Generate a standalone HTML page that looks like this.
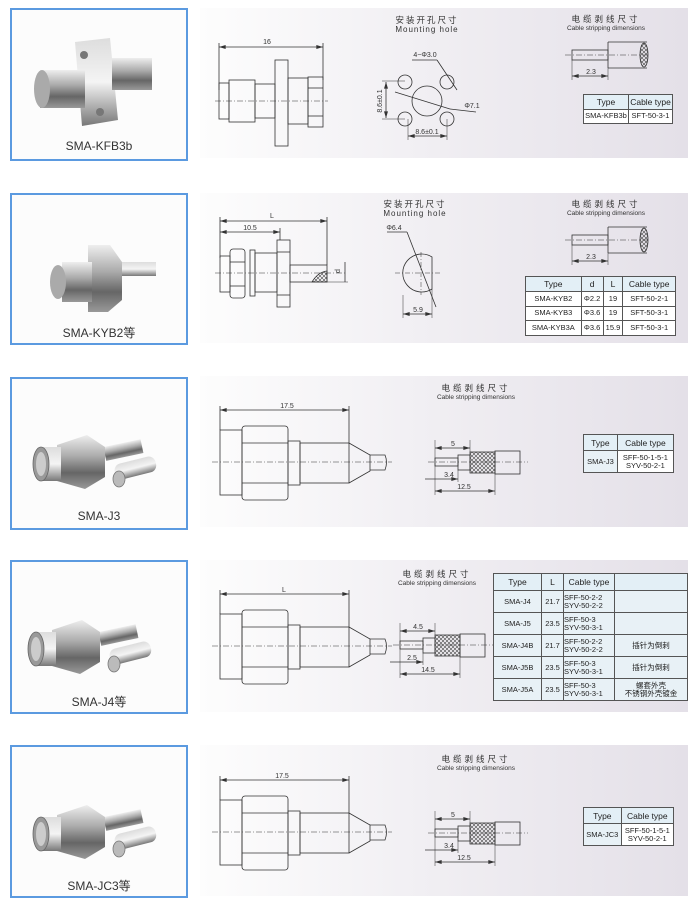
<!DOCTYPE html>
<html><head><meta charset="utf-8"><style>
body{margin:0;width:696px;height:906px;background:#fff;position:relative;overflow:hidden;font-family:"Liberation Sans","Noto Sans CJK SC",sans-serif;}
.box{position:absolute;left:10px;width:174px;border:2px solid #5b9ae0;background:#fcfcfc;}
.lbl{position:absolute;left:0;right:0;text-align:center;font-size:12px;color:#333;}
.panel{position:absolute;left:200px;width:488px;background:linear-gradient(90deg,#fdfdfd 0%,#f1eff3 45%,#e4e0e8 100%);}
table{position:absolute;border-collapse:collapse;font-size:7.5px;color:#222;background:#fff;border:1.5px solid #333;}
td{border:1px solid #555;text-align:center;padding:0;line-height:8px;}
tr.h td{background:#e3eff6;font-size:8.5px;}
td.b{background:#e8f1f6;}
.d{marker-start:url(#ar);marker-end:url(#ar);}
</style></head><body>
<div class="panel" style="top:8px;height:150px"></div>
<div class="panel" style="top:193px;height:150px"></div>
<div class="panel" style="top:376px;height:151px"></div>
<div class="panel" style="top:560px;height:152px"></div>
<div class="panel" style="top:745px;height:151px"></div>

<div class="box" style="top:8px;height:149px"><div class="lbl" style="top:129px">SMA-KFB3b</div></div>
<div class="box" style="top:193px;height:148px"><div class="lbl" style="top:129px">SMA-KYB2等</div></div>
<div class="box" style="top:377px;height:149px"><div class="lbl" style="top:130px">SMA-J3</div></div>
<div class="box" style="top:560px;height:150px"><div class="lbl" style="top:131px">SMA-J4等</div></div>
<div class="box" style="top:745px;height:149px"><div class="lbl" style="top:130px">SMA-JC3等</div></div>

<svg width="696" height="906" style="position:absolute;left:0;top:0" xmlns="http://www.w3.org/2000/svg" font-family="Liberation Sans, Noto Sans CJK SC, sans-serif">
<defs>
<marker id="ar" viewBox="0 0 10 6" refX="10" refY="3" markerWidth="7" markerHeight="4" orient="auto-start-reverse" markerUnits="userSpaceOnUse"><path d="M0 0L10 3L0 6Z" fill="#333"/></marker>
<linearGradient id="m" x1="0" y1="0" x2="0" y2="1"><stop offset="0" stop-color="#eee"/><stop offset=".4" stop-color="#aaa"/><stop offset=".7" stop-color="#666"/><stop offset="1" stop-color="#999"/></linearGradient>
<linearGradient id="m2" x1="0" y1="0" x2="0" y2="1"><stop offset="0" stop-color="#ddd"/><stop offset=".5" stop-color="#f4f4f4"/><stop offset="1" stop-color="#777"/></linearGradient>
<pattern id="hx" width="4" height="4" patternUnits="userSpaceOnUse"><path d="M0 0L4 4M4 0L0 4" stroke="#444" stroke-width=".6"/></pattern>
<g id="jplug">
<rect x="70" y="-8" width="38" height="14" fill="url(#m)" transform="rotate(-12 70 0)"/>
<rect x="80" y="10" width="42" height="16" rx="7" fill="url(#m2)" transform="rotate(-14 80 18)"/>
<ellipse cx="84" cy="24" rx="6" ry="8" fill="#bbb" stroke="#777"/>
<polygon points="22,-10 52,-20 70,-8 70,22 50,34 22,26" fill="url(#m)"/>
<rect x="4" y="-8" width="22" height="34" fill="url(#m2)"/>
<ellipse cx="6" cy="9" rx="8" ry="17" fill="#999" stroke="#666"/>
<ellipse cx="6" cy="9" rx="5" ry="12" fill="#ccc"/>
</g>
</defs>
<g stroke="#333" stroke-width=".8" fill="none">
<!-- ROW1 photo -->
<g stroke="none"><polygon points="75,42 110,38 118,120 82,126" fill="url(#m2)"/><rect x="112" y="58" width="40" height="32" fill="url(#m)"/><rect x="40" y="70" width="45" height="38" fill="url(#m)"/><ellipse cx="42" cy="89" rx="8" ry="19" fill="#aaa"/><circle cx="84" cy="55" r="4" fill="#777"/><circle cx="100" cy="112" r="4" fill="#777"/></g>
<!-- ROW1 drawing -->
<line x1="219" y1="43" x2="219" y2="90"/><line x1="323" y1="43" x2="323" y2="80"/>
<line class="d" x1="219" y1="47" x2="323" y2="47"/>
<rect x="219" y="83" width="10" height="36"/><rect x="229" y="80" width="26" height="42"/><rect x="255" y="84" width="20" height="34"/><rect x="275" y="60" width="13" height="86"/><rect x="288" y="78" width="20" height="46"/><rect x="308" y="77" width="15" height="50"/><line x1="308" y1="88" x2="323" y2="88"/><line x1="308" y1="116" x2="323" y2="116"/>
<line x1="215" y1="101" x2="328" y2="101" stroke-dasharray="6 2 1 2" stroke-width=".5"/>
<!-- mounting hole 1 -->
<circle cx="405" cy="82" r="7"/><circle cx="447" cy="82" r="7"/><circle cx="405" cy="119" r="7"/><circle cx="447" cy="119" r="7"/><circle cx="427" cy="101" r="15"/>
<line x1="382" y1="81" x2="405" y2="81" stroke-width=".5"/><line x1="382" y1="119" x2="405" y2="119" stroke-width=".5"/><line class="d" x1="386" y1="82" x2="386" y2="118"/>
<line x1="408" y1="119" x2="408" y2="140" stroke-width=".5"/><line x1="447" y1="119" x2="447" y2="140" stroke-width=".5"/><line class="d" x1="408" y1="136" x2="447" y2="136"/>
<line x1="412" y1="60" x2="437" y2="60"/><line x1="437" y1="60" x2="457" y2="90"/><line x1="395" y1="92" x2="450" y2="109"/><line x1="450" y1="109" x2="476" y2="112"/>
<!-- cable 1 -->
<rect x="572" y="50" width="36" height="10"/><path d="M608 42H647M608 68H647M608 42V68"/><ellipse cx="644" cy="55" rx="4" ry="12" fill="url(#hx)"/>
<line x1="565" y1="55" x2="650" y2="55" stroke-dasharray="6 2 1 2" stroke-width=".5"/>
<line x1="572" y1="60" x2="572" y2="80" stroke-width=".5"/><line x1="608" y1="68" x2="608" y2="80" stroke-width=".5"/><line class="d" x1="572" y1="76" x2="608" y2="76"/>

<!-- ROW2 photo -->
<g stroke="none"><rect x="118" y="262" width="38" height="14" fill="url(#m2)"/><polygon points="88,245 110,245 122,262 122,300 108,312 88,312" fill="url(#m)"/><rect x="62" y="262" width="30" height="40" fill="url(#m)"/><ellipse cx="58" cy="282" rx="8" ry="17" fill="#aaa"/></g>
<!-- ROW2 drawing -->
<line x1="220" y1="217" x2="220" y2="258"/><line x1="327" y1="217" x2="327" y2="265"/><line x1="280" y1="228" x2="280" y2="240"/>
<line class="d" x1="220" y1="221" x2="327" y2="221"/><line class="d" x1="220" y1="232" x2="280" y2="232"/>
<rect x="220" y="256" width="10" height="36"/><rect x="230" y="249" width="15" height="49" rx="3"/><line x1="230" y1="262" x2="245" y2="262"/><line x1="230" y1="286" x2="245" y2="286"/><rect x="250" y="250" width="5" height="46"/><rect x="255" y="253" width="22" height="39"/><rect x="277" y="240" width="13" height="67"/><line x1="277" y1="252" x2="290" y2="252"/><line x1="277" y1="295" x2="290" y2="295"/><rect x="290" y="265" width="37" height="17"/>
<path d="M312 282 Q318 272 327 271 V282Z" fill="url(#hx)"/>
<line x1="327" y1="282" x2="348" y2="282" stroke-width=".5"/><line x1="345" y1="262" x2="345" y2="282"/>
<line x1="215" y1="273" x2="345" y2="273" stroke-dasharray="6 2 1 2" stroke-width=".5"/>
<path d="M432 257 A19 19 0 1 0 432 289 Z"/>
<line x1="395" y1="273" x2="440" y2="273" stroke-dasharray="5 2 1 2" stroke-width=".5"/><line x1="421" y1="252" x2="421" y2="295" stroke-dasharray="5 2 1 2" stroke-width=".5"/>
<line x1="387" y1="232" x2="407" y2="232"/><line x1="407" y1="232" x2="436" y2="307"/>
<line x1="403" y1="295" x2="403" y2="318" stroke-width=".5"/><line x1="432" y1="289" x2="432" y2="318" stroke-width=".5"/><line class="d" x1="403" y1="314" x2="432" y2="314"/>
<!-- cable 2 -->
<rect x="572" y="235" width="36" height="10"/><path d="M608 227H647M608 253H647M608 227V253"/><ellipse cx="644" cy="240" rx="4" ry="12" fill="url(#hx)"/>
<line x1="565" y1="240" x2="650" y2="240" stroke-dasharray="6 2 1 2" stroke-width=".5"/>
<line x1="572" y1="245" x2="572" y2="265" stroke-width=".5"/><line x1="608" y1="253" x2="608" y2="265" stroke-width=".5"/><line class="d" x1="572" y1="261" x2="608" y2="261"/>

<!-- plugs photos -->
<use href="#jplug" transform="translate(35,455)" stroke="none"/>
<use href="#jplug" transform="translate(30,640)" stroke="none"/>
<use href="#jplug" transform="translate(35,825)" stroke="none"/>

<!-- ROW3/4/5 plug drawings -->
<g id="pd">
<rect x="220" y="430" width="22" height="65"/><rect x="242" y="426" width="46" height="74" rx="3"/><line x1="242" y1="443" x2="288" y2="443"/><line x1="242" y1="483" x2="288" y2="483"/>
<rect x="288" y="441" width="12" height="44"/><rect x="300" y="443" width="49" height="40"/><path d="M349 443 L370 455 V471 L349 483"/><path d="M370 455 H385 Q388 462 385 470 H370"/>
<line x1="220" y1="406" x2="220" y2="430"/><line x1="349" y1="406" x2="349" y2="443"/><line class="d" x1="220" y1="410" x2="349" y2="410"/>
<line x1="212" y1="462" x2="392" y2="462" stroke-dasharray="6 2 1 2" stroke-width=".5"/>
</g>
<use href="#pd" transform="translate(0,184)"/>
<use href="#pd" transform="translate(0,370)"/>
<!-- strips -->
<g id="st">
<rect x="435" y="458" width="23" height="8"/><rect x="458" y="455" width="12" height="15"/><rect x="470" y="452" width="25" height="21" fill="url(#hx)"/><rect x="495" y="451" width="25" height="23"/>
<line x1="428" y1="462" x2="528" y2="462" stroke-dasharray="6 2 1 2" stroke-width=".5"/>
<line x1="435" y1="440" x2="435" y2="495" stroke-width=".5"/><line x1="470" y1="440" x2="470" y2="452" stroke-width=".5"/><line class="d" x1="435" y1="448" x2="470" y2="448"/>
<line x1="425" y1="479" x2="458" y2="479" style="marker-end:url(#ar)"/><line x1="458" y1="470" x2="458" y2="482" stroke-width=".5"/>
<line x1="495" y1="474" x2="495" y2="495" stroke-width=".5"/><line class="d" x1="435" y1="491" x2="495" y2="491"/>
</g>
<use href="#st" transform="translate(-35,183)"/>
<use href="#st" transform="translate(0,371)"/>
</g>
<g font-size="7" fill="#333" text-anchor="middle">
<text x="267" y="44">16</text>
<text x="427" y="23" font-size="8.5" letter-spacing="2">安装开孔尺寸</text><text x="427" y="32" font-size="8" letter-spacing="1">Mounting hole</text>
<text x="425" y="57">4−Φ3.0</text><text x="472" y="108">Φ7.1</text><text x="427" y="134">8.6±0.1</text>
<text x="382" y="101" transform="rotate(-90 382 101)">8.6±0.1</text>
<text x="606" y="22" font-size="8.5" letter-spacing="3">电缆剥线尺寸</text><text x="606" y="30" font-size="6.5">Cable stripping dimensions</text>
<text x="591" y="74">2.3</text>
<text x="272" y="218">L</text><text x="250" y="230">10.5</text><text x="340" y="271" transform="rotate(-90 340 271)">d</text>
<text x="415" y="207" font-size="8.5" letter-spacing="2">安装开孔尺寸</text><text x="415" y="216" font-size="8" letter-spacing="1">Mounting hole</text>
<text x="394" y="230">Φ6.4</text><text x="418" y="312">5.9</text>
<text x="606" y="207" font-size="8.5" letter-spacing="3">电缆剥线尺寸</text><text x="606" y="215" font-size="6.5">Cable stripping dimensions</text>
<text x="591" y="259">2.3</text>
<text x="287" y="408">17.5</text>
<text x="476" y="391" font-size="8.5" letter-spacing="3">电缆剥线尺寸</text><text x="476" y="399" font-size="6.5">Cable stripping dimensions</text>
<text x="453" y="446">5</text><text x="449" y="477">3.4</text><text x="464" y="489">12.5</text>
<text x="284" y="592">L</text>
<text x="437" y="577" font-size="8.5" letter-spacing="3">电缆剥线尺寸</text><text x="437" y="585" font-size="6.5">Cable stripping dimensions</text>
<text x="418" y="629">4.5</text><text x="412" y="660">2.5</text><text x="428" y="672">14.5</text>
<text x="282" y="778">17.5</text>
<text x="476" y="762" font-size="8.5" letter-spacing="3">电缆剥线尺寸</text><text x="476" y="770" font-size="6.5">Cable stripping dimensions</text>
<text x="453" y="817">5</text><text x="449" y="848">3.4</text><text x="464" y="860">12.5</text>
</g>
</svg>

<table style="left:583px;top:94px;width:90px;height:30px"><tr class="h"><td>Type</td><td>Cable type</td></tr><tr><td>SMA-KFB3b</td><td>SFT-50-3-1</td></tr></table>
<table style="left:525px;top:276px;width:151px;height:60px"><tr class="h"><td>Type</td><td>d</td><td>L</td><td>Cable type</td></tr><tr><td>SMA-KYB2</td><td>Φ2.2</td><td>19</td><td>SFT-50-2-1</td></tr><tr><td>SMA-KYB3</td><td>Φ3.6</td><td>19</td><td>SFT-50-3-1</td></tr><tr><td>SMA-KYB3A</td><td>Φ3.6</td><td>15.9</td><td>SFT-50-3-1</td></tr></table>
<table style="left:583px;top:434px;width:91px;height:39px"><tr class="h" style="height:16px"><td>Type</td><td>Cable type</td></tr><tr><td class="b">SMA-J3</td><td>SFF-50-1-5-1<br>SYV-50-2-1</td></tr></table>
<table style="left:493px;top:573px;width:195px;height:128px"><tr class="h" style="height:17px"><td style="width:47px">Type</td><td style="width:21px">L</td><td style="width:50px">Cable type</td><td></td></tr>
<tr><td class="b">SMA-J4</td><td class="b">21.7</td><td class="b" style="text-align:left">SFF-50-2-2<br>SYV-50-2-2</td><td class="b"></td></tr>
<tr><td class="b">SMA-J5</td><td class="b">23.5</td><td class="b" style="text-align:left">SFF-50-3<br>SYV-50-3-1</td><td class="b"></td></tr>
<tr><td class="b">SMA-J4B</td><td class="b">21.7</td><td class="b" style="text-align:left">SFF-50-2-2<br>SYV-50-2-2</td><td class="b">插针为倒刺</td></tr>
<tr><td class="b">SMA-J5B</td><td class="b">23.5</td><td class="b" style="text-align:left">SFF-50-3<br>SYV-50-3-1</td><td class="b">插针为倒刺</td></tr>
<tr><td class="b">SMA-J5A</td><td class="b">23.5</td><td class="b" style="text-align:left">SFF-50-3<br>SYV-50-3-1</td><td class="b">螺套外壳<br>不锈钢外壳镀金</td></tr></table>
<table style="left:583px;top:807px;width:91px;height:39px"><tr class="h" style="height:16px"><td>Type</td><td>Cable type</td></tr><tr><td class="b">SMA-JC3</td><td>SFF-50-1-5-1<br>SYV-50-2-1</td></tr></table>
</body></html>
